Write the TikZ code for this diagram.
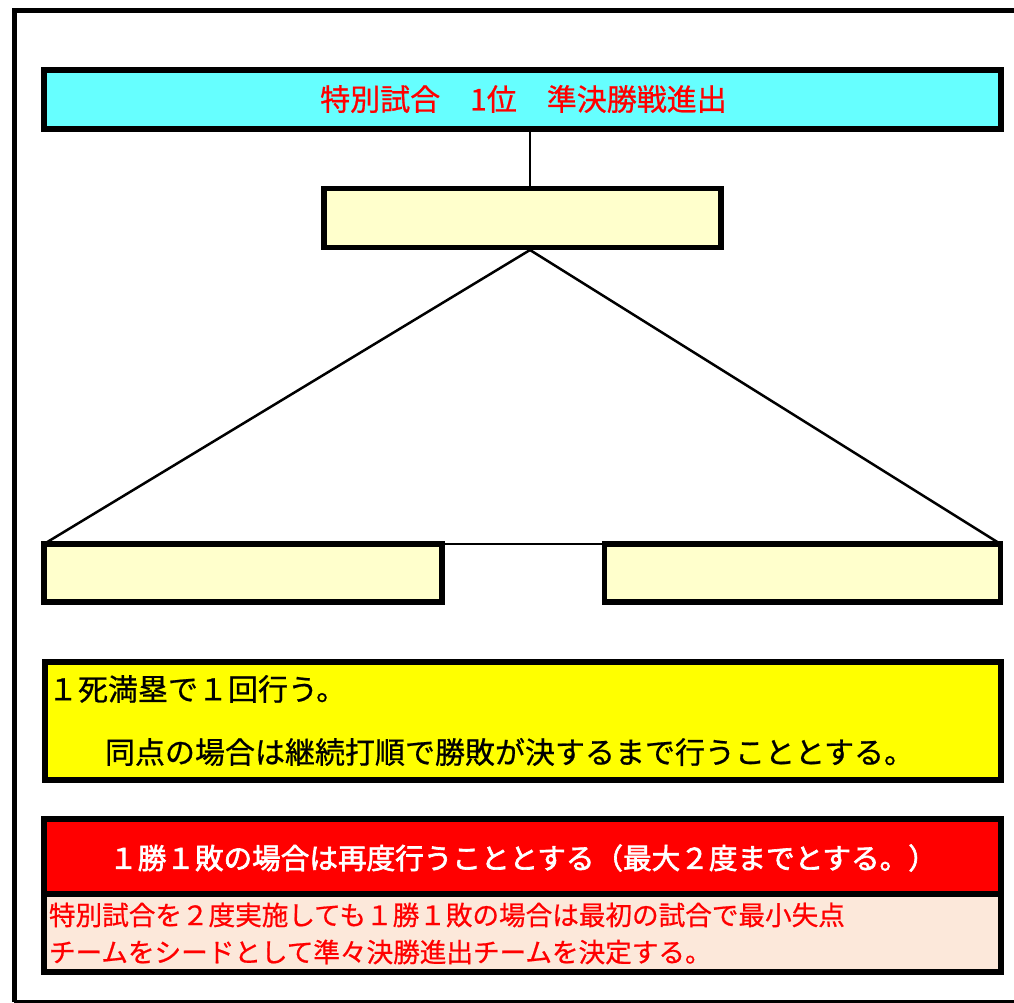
\documentclass[tikz,border=0pt]{standalone}
\usepackage{fontspec}
\setmainfont{Noto Sans CJK JP}
\newfontfamily\jpbold{Noto Sans CJK JP}[FakeBold=2.2]
\newfontfamily\jpmed{Noto Sans CJK JP}[FakeBold=0.7]
\definecolor{titlecyan}{HTML}{66FFFF}
\definecolor{paleyellow}{HTML}{FFFFCC}
\definecolor{brightyellow}{HTML}{FFFF00}
\definecolor{pureRed}{HTML}{FF0000}
\definecolor{palepink}{HTML}{FCE8DA}
\tikzset{
  boxbase/.style={draw=black, line width=5.5pt, inner sep=0pt, outer sep=0pt, rectangle},
  conn/.style={draw=black, line width=2.5pt},
  txt/.style={inner sep=0pt, outer sep=0pt, anchor=west}
}
\begin{document}
\begin{tikzpicture}[x=1pt,y=-1pt]
\useasboundingbox (0,0) rectangle (1014,1003);
\clip (0,0) rectangle (1014,1003);
% outer frame
\draw[line width=5pt] (14,1002) -- (14,11) -- (1040,11);
\draw[line width=4pt] (14,1002) -- (1040,1002);
% boxes
\node[boxbase, fill=titlecyan, minimum width=957pt, minimum height=59pt] (title) at (522.5,99.5) {};
\node[text=pureRed, font=\jpmed\fontsize{30}{30}\selectfont] (titletxt) at (523.5,99) {特別試合　1位　準決勝戦進出};
\node[boxbase, fill=paleyellow, minimum width=397pt, minimum height=58.5pt] (mid) at (522.5,218) {};
\node[boxbase, fill=paleyellow, minimum width=398pt, minimum height=58pt] (lbox) at (243,573) {};
\node[boxbase, fill=paleyellow, minimum width=396pt, minimum height=58pt] (rbox) at (802.5,573) {};
% connectors
\coordinate (mtop) at (530,189);
\coordinate (mbot) at (530,250);
\draw[conn] (mtop |- title.south) -- (mtop);
\draw[conn] (mbot) -- (lbox.north west);
\draw[conn] (mbot) -- (rbox.north east);
\draw[conn] (lbox.north east) -- (rbox.north west);
% yellow note
\node[boxbase, fill=brightyellow, minimum width=956pt, minimum height=118pt] (note) at (523,721) {};
\node[txt, font=\jpmed\fontsize{30}{30}\selectfont] (n1) at (48,689) {１死満塁で１回行う。};
\node[txt, font=\jpmed\fontsize{30}{30}\selectfont] (n2) at (105,752) {同点の場合は継続打順で勝敗が決するまで行うこととする。};
% red and pink
\node[boxbase, fill=pureRed, minimum width=957pt, minimum height=75pt] (redb) at (522.5,856.5) {};
\node[text=white, font=\jpbold\fontsize{28.6}{28.6}\selectfont] (redt) at (523,858) {１勝１敗の場合は再度行うこととする（最大２度までとする。）};
\node[boxbase, fill=palepink, minimum width=957pt, minimum height=78pt] (pinkb) at (522.5,933) {};
\node[txt, text=pureRed, font=\jpmed\fontsize{26.6}{26.6}\selectfont] (p1) at (49,915) {特別試合を２度実施しても１勝１敗の場合は最初の試合で最小失点};
\node[txt, text=pureRed, font=\jpmed\fontsize{26.6}{26.6}\selectfont] (p2) at (49,952) {チームをシードとして準々決勝進出チームを決定する。};
\end{tikzpicture}
\end{document}
